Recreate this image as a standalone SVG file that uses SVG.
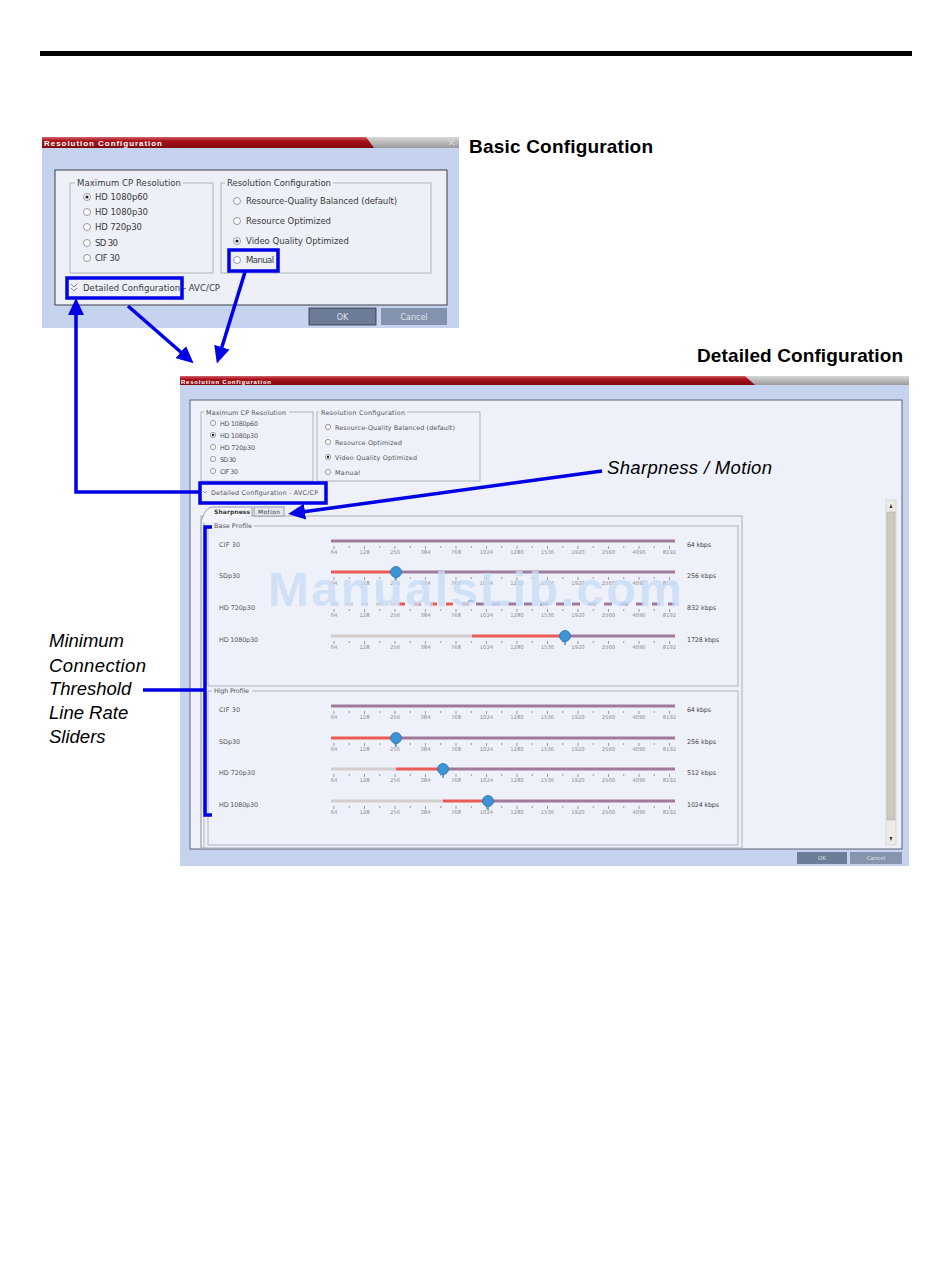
<svg xmlns="http://www.w3.org/2000/svg" xmlns:xlink="http://www.w3.org/1999/xlink" width="950" height="1284" viewBox="0 0 950 1284">
<style>
.ui{font-family:"DejaVu Sans","Liberation Sans",sans-serif;fill:#3a3a3a}
.b{font-size:8.5px}
.d{font-size:6.4px;fill:#555}
.ttl{font-family:"Liberation Sans",Arial,sans-serif;font-weight:bold;fill:#fff}
.head{font-family:"Liberation Sans",Arial,sans-serif;font-weight:bold;font-size:19px;fill:#000}
.note{font-family:"Liberation Sans",Arial,sans-serif;font-style:italic;font-size:18.5px;fill:#000}
.rb{fill:#fff;stroke:#7d828e;stroke-width:0.8}
.dot{fill:#222}
.grp{fill:none;stroke:#a9adb8;stroke-width:0.9}
.ko{fill:#eef0f8}
.hl{fill:none;stroke:#0000e6;stroke-width:3.5}
.con{fill:none;stroke:#0000e6;stroke-width:3.5}
.trk{stroke-width:3}
.pu{stroke:#a07a9a}
.rd{stroke:#ec5a55}
.gy{stroke:#d2cdce}
.tl{font-family:"DejaVu Sans",sans-serif;font-size:5.3px;fill:#8e8e8e;text-anchor:middle}
.kb{font-family:"DejaVu Sans",sans-serif;font-size:6.4px;fill:#4a4a4a}
.btn{font-family:"DejaVu Sans",sans-serif;fill:#dfe3ea;text-anchor:middle}
</style>
<defs>
<linearGradient id="red" x1="0" y1="0" x2="0" y2="1">
<stop offset="0" stop-color="#d2646a"/><stop offset="0.35" stop-color="#a8111b"/><stop offset="1" stop-color="#7e0a0f"/>
</linearGradient>
<linearGradient id="gray" x1="0" y1="0" x2="0" y2="1">
<stop offset="0" stop-color="#d8d8d8"/><stop offset="1" stop-color="#9a9a9a"/>
</linearGradient>
<marker id="ah" markerUnits="userSpaceOnUse" markerWidth="18" markerHeight="16" refX="3" refY="8" orient="auto">
<path d="M0,0 L17,8 L0,16 z" fill="#0000e6"/>
</marker>
<g id="scale">
<path d="M334,5v3M364.5,5v3M395,5v3M425.5,5v3M456,5v3M486.5,5v3M517,5v3M547.5,5v3M578,5v3M608.5,5v3M639,5v3M669.5,5v3" stroke="#7a7a7a" stroke-width="0.7"/>
<path d="M349.25,5v2M379.75,5v2M410.25,5v2M440.75,5v2M471.25,5v2M501.75,5v2M532.25,5v2M562.75,5v2M593.25,5v2M623.75,5v2M654.25,5v2" stroke="#7a7a7a" stroke-width="0.7"/>
<text class="tl" x="334" y="13">64</text>
<text class="tl" x="364.5" y="13">128</text>
<text class="tl" x="395" y="13">256</text>
<text class="tl" x="425.5" y="13">384</text>
<text class="tl" x="456" y="13">768</text>
<text class="tl" x="486.5" y="13">1024</text>
<text class="tl" x="517" y="13">1280</text>
<text class="tl" x="547.5" y="13">1536</text>
<text class="tl" x="578" y="13">1920</text>
<text class="tl" x="608.5" y="13">2560</text>
<text class="tl" x="639" y="13">4096</text>
<text class="tl" x="669.5" y="13">8192</text>
</g>
<g id="knob">
<path d="M0,4 L0,9" stroke="#3a8fd0" stroke-width="1.5"/>
<circle r="5.5" fill="#3d93d3" stroke="#2a72b0" stroke-width="0.8"/>
</g>
</defs>

<rect width="950" height="1284" fill="#fff"/>
<rect x="40" y="51" width="872" height="5" fill="#000"/>

<text class="head" x="469" y="153" textLength="184">Basic Configuration</text>
<text class="head" x="697" y="362" textLength="206">Detailed Configuration</text>

<!-- Basic configuration dialog -->
<g id="basic-dialog">
<rect x="42" y="137" width="417" height="191" fill="#c6d3ee"/>
<path d="M42,137 H459 V148 H42 z" fill="url(#gray)"/>
<path d="M42,137 H366 L374,148 H42 z" fill="url(#red)"/>
<path d="M449,140 l5,5 M454,140 l-5,5" stroke="#eee" stroke-width="0.8"/>
<text class="ttl" x="44" y="146" font-size="8" textLength="118">Resolution Configuration</text>
<rect x="55" y="170" width="392" height="135" fill="#eef0f8" stroke="#3c3f48" stroke-width="1"/>
<rect class="grp" x="70" y="183" width="143" height="90"/>
<rect class="ko" x="75" y="179" width="108" height="9"/>
<text class="ui b" x="77" y="186" textLength="104">Maximum CP Resolution</text>
<circle class="rb" cx="87" cy="197" r="3.5"/><circle class="dot" cx="87" cy="197" r="1.6"/>
<text class="ui b" x="95" y="200" textLength="53">HD 1080p60</text>
<circle class="rb" cx="87" cy="212" r="3.5"/>
<text class="ui b" x="95" y="215" textLength="53">HD 1080p30</text>
<circle class="rb" cx="87" cy="227" r="3.5"/>
<text class="ui b" x="95" y="230" textLength="47">HD 720p30</text>
<circle class="rb" cx="87" cy="243" r="3.5"/>
<text class="ui b" x="95" y="246" textLength="23">SD 30</text>
<circle class="rb" cx="87" cy="258" r="3.5"/>
<text class="ui b" x="95" y="261" textLength="25">CIF 30</text>
<rect class="grp" x="221" y="183" width="210" height="90"/>
<rect class="ko" x="225" y="179" width="108" height="9"/>
<text class="ui b" x="227" y="186" textLength="104">Resolution Configuration</text>
<circle class="rb" cx="237" cy="201" r="3.5"/>
<text class="ui b" x="246" y="204" textLength="151">Resource-Quality Balanced (default)</text>
<circle class="rb" cx="237" cy="221" r="3.5"/>
<text class="ui b" x="246" y="224" textLength="85">Resource Optimized</text>
<circle class="rb" cx="237" cy="241" r="3.5"/><circle class="dot" cx="237" cy="241" r="1.6"/>
<text class="ui b" x="246" y="244" textLength="103">Video Quality Optimized</text>
<circle class="rb" cx="237" cy="260" r="3.5"/>
<text class="ui b" x="246" y="263" textLength="28">Manual</text>
<path d="M71,284 l3,3 l3,-3 M71,288 l3,3 l3,-3" fill="none" stroke="#888" stroke-width="1"/>
<text class="ui b" x="83" y="291" fill="#111" textLength="137">Detailed Configuration - AVC/CP</text>
<rect x="309" y="308" width="67" height="17" fill="#6b7b98" stroke="#2c3240" stroke-width="0.8"/>
<text class="btn" x="342.5" y="319.5" font-size="8">OK</text>
<rect x="381" y="308" width="66" height="17" fill="#8493ad"/>
<text class="btn" x="414" y="319.5" font-size="8">Cancel</text>
<rect class="hl" x="67" y="278" width="115" height="20"/>
<rect class="hl" x="229" y="250" width="49" height="21"/>
</g>

<!-- Detailed configuration dialog -->
<g id="detailed-dialog">
<rect x="180" y="376" width="729" height="490" fill="#c6d3ee"/>
<path d="M180,376 H909 V385 H180 z" fill="url(#gray)"/>
<path d="M180,376 H745 L755,385 H180 z" fill="url(#red)"/>
<text class="ttl" x="181" y="383.5" font-size="6" textLength="90">Resolution Configuration</text>
<rect x="190" y="400" width="712" height="449" fill="#eef1f9" stroke="#5d6270" stroke-width="1"/>
<rect class="grp" x="201" y="412" width="112" height="69"/>
<rect class="ko" x="204" y="409" width="85" height="7" fill="#eef1f9"/>
<text class="ui d" x="206" y="415" textLength="80">Maximum CP Resolution</text>
<circle class="rb" cx="213" cy="423" r="2.6"/>
<text class="ui d" x="220" y="425.5" textLength="38">HD 1080p60</text>
<circle class="rb" cx="213" cy="435" r="2.6"/><circle class="dot" cx="213" cy="435" r="1.2"/>
<text class="ui d" x="220" y="437.5" textLength="38">HD 1080p30</text>
<circle class="rb" cx="213" cy="447" r="2.6"/>
<text class="ui d" x="220" y="449.5" textLength="35">HD 720p30</text>
<circle class="rb" cx="213" cy="459" r="2.6"/>
<text class="ui d" x="220" y="461.5" textLength="16">SD 30</text>
<circle class="rb" cx="213" cy="471" r="2.6"/>
<text class="ui d" x="220" y="473.5" textLength="18">CIF 30</text>
<rect class="grp" x="317" y="412" width="163" height="69"/>
<rect class="ko" x="319" y="409" width="88" height="7" fill="#eef1f9"/>
<text class="ui d" x="321" y="415" textLength="84">Resolution Configuration</text>
<circle class="rb" cx="328" cy="427" r="2.6"/>
<text class="ui d" x="335" y="429.5" textLength="120">Resource-Quality Balanced (default)</text>
<circle class="rb" cx="328" cy="442" r="2.6"/>
<text class="ui d" x="335" y="444.5" textLength="67">Resource Optimized</text>
<circle class="rb" cx="328" cy="457" r="2.6"/><circle class="dot" cx="328" cy="457" r="1.2"/>
<text class="ui d" x="335" y="459.5" textLength="82">Video Quality Optimized</text>
<circle class="rb" cx="328" cy="472" r="2.6"/>
<text class="ui d" x="335" y="474.5" textLength="25">Manual</text>
<path d="M203,491 l2,2 l2,-2" fill="none" stroke="#888" stroke-width="0.8"/>
<text class="ui d" x="211" y="495" textLength="107">Detailed Configuration - AVC/CP</text>
<!-- tabs -->
<rect x="201" y="516" width="541" height="332" fill="none" stroke="#a4a8b4" stroke-width="0.9"/>
<path d="M201,522 L201,848 M204,522 L204,848" stroke="#a4a8b4" stroke-width="0.8" fill="none"/>
<path d="M201,522 C204,512 207,507 214,507 H252 V516" fill="#f4f5fa" stroke="#8f94a0" stroke-width="0.9"/>
<text class="ui" x="214" y="514" font-size="6" font-weight="bold" textLength="36" fill="#333">Sharpness</text>
<rect x="254" y="507" width="30" height="9" fill="#e6e9f3" stroke="#8f94a0" stroke-width="0.9"/>
<text class="ui" x="258" y="514" font-size="6" textLength="22" fill="#666">Motion</text>
<!-- base profile -->
<rect class="grp" x="208" y="526" width="530" height="160"/>
<rect x="212" y="522" width="42" height="7" fill="#eef1f9"/>
<text class="ui d" x="214" y="528" textLength="38">Base Profile</text>
<text class="ui d" x="219" y="547" textLength="21">CIF 30</text>
<text class="ui d" x="219" y="578" textLength="21">SDp30</text>
<text class="ui d" x="219" y="610" textLength="36">HD 720p30</text>
<text class="ui d" x="219" y="642" textLength="39">HD 1080p30</text>
<use href="#scale" xlink:href="#scale" y="541"/>
<use href="#scale" xlink:href="#scale" y="572"/>
<use href="#scale" xlink:href="#scale" y="604"/>
<use href="#scale" xlink:href="#scale" y="636"/>
<line class="trk pu" x1="331" y1="541" x2="675" y2="541"/>
<line class="trk rd" x1="331" y1="572" x2="396" y2="572"/>
<line class="trk pu" x1="396" y1="572" x2="675" y2="572"/>
<use href="#knob" xlink:href="#knob" x="396" y="572"/>
<line class="trk gy" x1="331" y1="604" x2="396" y2="604" stroke-dasharray="7,8"/>
<line class="trk rd" x1="398" y1="604" x2="472" y2="604" stroke-dasharray="7,9"/>
<line class="trk pu" x1="476" y1="604" x2="675" y2="604" stroke-dasharray="8,8"/>
<path d="M467,602 q4,-5 8,0" fill="#2f6fb0"/>
<line class="trk gy" x1="331" y1="636" x2="472" y2="636"/>
<line class="trk rd" x1="472" y1="636" x2="565" y2="636"/>
<line class="trk pu" x1="565" y1="636" x2="675" y2="636"/>
<use href="#knob" xlink:href="#knob" x="565" y="636"/>
<text class="kb" x="687" y="547" textLength="24">64 kbps</text>
<text class="kb" x="687" y="578" textLength="29">256 kbps</text>
<text class="kb" x="687" y="610" textLength="29">832 kbps</text>
<text class="kb" x="687" y="642" textLength="32">1728 kbps</text>
<text x="268" y="606" font-family="Liberation Sans, Arial, sans-serif" font-weight="bold" font-size="49" fill="#c9def7" opacity="0.8" textLength="414">ManualsLib.com</text>
<!-- high profile -->
<rect class="grp" x="208" y="691" width="530" height="154"/>
<rect x="212" y="687" width="40" height="7" fill="#eef1f9"/>
<text class="ui d" x="214" y="693" textLength="35">High Profile</text>
<text class="ui d" x="219" y="712" textLength="21">CIF 30</text>
<text class="ui d" x="219" y="744" textLength="21">SDp30</text>
<text class="ui d" x="219" y="775" textLength="36">HD 720p30</text>
<text class="ui d" x="219" y="807" textLength="39">HD 1080p30</text>
<use href="#scale" xlink:href="#scale" y="706"/>
<use href="#scale" xlink:href="#scale" y="738"/>
<use href="#scale" xlink:href="#scale" y="769"/>
<use href="#scale" xlink:href="#scale" y="801"/>
<line class="trk pu" x1="331" y1="706" x2="675" y2="706"/>
<line class="trk rd" x1="331" y1="738" x2="396" y2="738"/>
<line class="trk pu" x1="396" y1="738" x2="675" y2="738"/>
<use href="#knob" xlink:href="#knob" x="396" y="738"/>
<line class="trk gy" x1="331" y1="769" x2="396" y2="769"/>
<line class="trk rd" x1="396" y1="769" x2="443" y2="769"/>
<line class="trk pu" x1="443" y1="769" x2="675" y2="769"/>
<use href="#knob" xlink:href="#knob" x="443" y="769"/>
<line class="trk gy" x1="331" y1="801" x2="443" y2="801"/>
<line class="trk rd" x1="443" y1="801" x2="488" y2="801"/>
<line class="trk pu" x1="488" y1="801" x2="675" y2="801"/>
<use href="#knob" xlink:href="#knob" x="488" y="801"/>
<text class="kb" x="687" y="712" textLength="24">64 kbps</text>
<text class="kb" x="687" y="744" textLength="29">256 kbps</text>
<text class="kb" x="687" y="775" textLength="29">512 kbps</text>
<text class="kb" x="687" y="807" textLength="32">1024 kbps</text>
<!-- scrollbar -->
<rect x="886" y="500" width="10" height="345" fill="#ecebe8" stroke="#c9c7c0" stroke-width="0.6"/>
<rect x="887" y="512" width="8" height="308" fill="#cdc9c0" stroke="#b3afa6" stroke-width="0.6"/>
<path d="M889.5,508 L891,504 L892.5,508 z M889.5,837 L891,841 L892.5,837 z" fill="#333"/>
<!-- buttons -->
<rect x="797" y="852" width="50" height="12" fill="#6d7d99"/>
<text class="btn" x="822" y="860" font-size="5.5">OK</text>
<rect x="850" y="852" width="52" height="12" fill="#8695ad"/>
<text class="btn" x="876" y="860" font-size="5.5">Cancel</text>
<rect class="hl" x="200" y="483" width="126" height="20"/>
</g>

<!-- annotations -->
<g id="label-sharpness">
<text class="note" x="607" y="474" textLength="165">Sharpness / Motion</text>
</g>
<g id="label-sliders">
<text class="note" x="49" y="647">Minimum</text>
<text class="note" x="49" y="672" textLength="97">Connection</text>
<text class="note" x="49" y="695">Threshold</text>
<text class="note" x="49" y="719">Line Rate</text>
<text class="note" x="49" y="743">Sliders</text>
</g>

<g id="connectors">
<path class="con" d="M128,306 L183,354" marker-end="url(#ah)"/>
<path class="con" d="M245,272 L221,350" marker-end="url(#ah)"/>
<path class="con" d="M200,492 H76 V312" marker-end="url(#ah)"/>
<path class="con" d="M602,471 L302,512" marker-end="url(#ah)"/>
<path class="con" d="M212,527 H205 V815 H212"/>
<path class="con" d="M143,690 H205"/>
</g>
</svg>
